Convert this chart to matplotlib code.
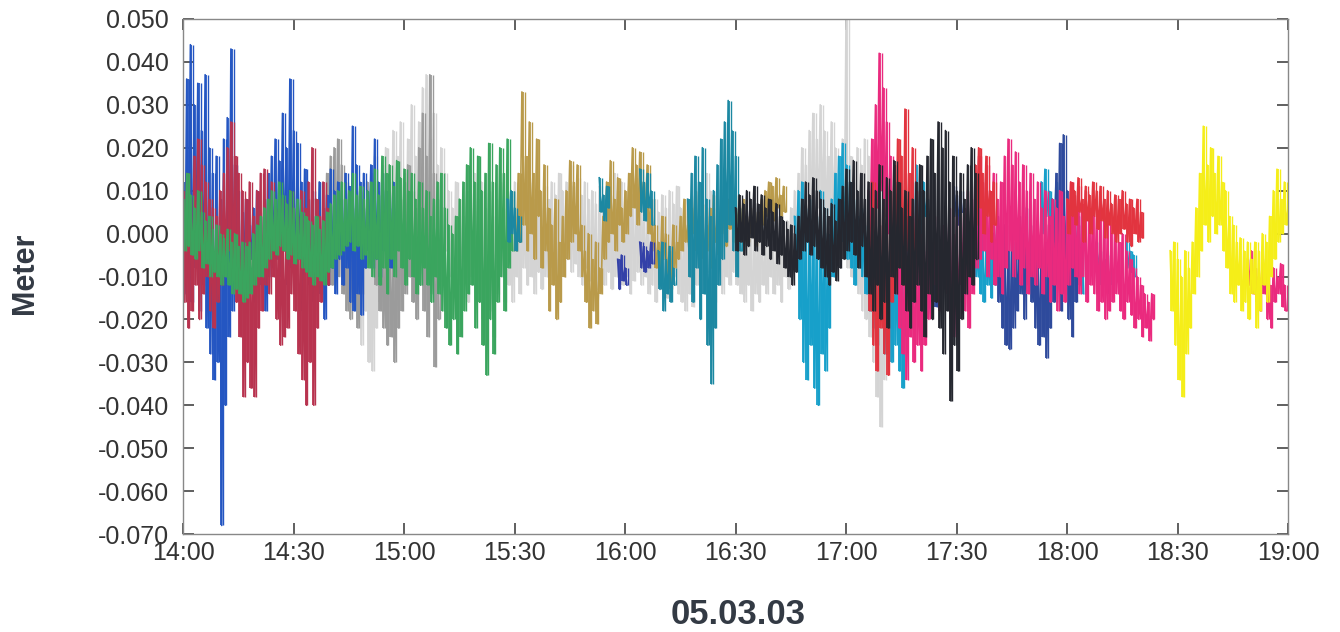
import numpy as np
import matplotlib
matplotlib.use("Agg")
import matplotlib.pyplot as plt

plt.rcParams["font.family"] = ["Liberation Sans", "DejaVu Sans"]
plt.rcParams["axes.unicode_minus"] = False

# time axis: minutes after 14:00, tick every 30 min
tick_minutes = [0, 30, 60, 90, 120, 150, 180, 210, 240, 270, 300]
tick_labels = ["14:00", "14:30", "15:00", "15:30", "16:00", "16:30",
               "17:00", "17:30", "18:00", "18:30", "19:00"]
y_ticks = [0.05, 0.04, 0.03, 0.02, 0.01, 0.0, -0.01, -0.02, -0.03, -0.04, -0.05, -0.06, -0.07]

# each series: first minute, then one (high, low) pair per minute, in mm
# None = no data in that minute
lightgray_start = 46
lightgray = [(4, -14), (10, -20), (6, -26), (12, -18), (8, -30), (14, -32), (18, -22), (10, -16),
             (16, -12), (20, -8), (12, -14), (24, -10), (18, -6), (26, -12), (14, -8), (22, -4),
             (30, -10), (18, -6), (26, -2), (34, -8), (37, -4), (22, -10), (28, -6), (16, -12),
             (20, -8), (14, -4), (10, -10), (6, -14), (12, -8), (8, -12), (4, -6), (10, -16),
             (6, -10), (14, -8), (8, -14), (12, -20), (6, -12), (10, -18), (4, -24), (8, -14),
             (12, -10), (6, -16), (10, -12), (8, -16), (12, -10), (6, -14), (10, -8), (7, -12),
             (12, -10), (8, -14), (10, -9), (6, -13), (11, -10), (8, -12), (12, -8), (9, -11),
             (14, -8), (10, -10), (12, -6), (16, -9), (11, -7), (13, -10), (9, -12), (12, -8),
             (8, -11), (10, -9), (7, -13), (11, -10), (8, -12), (12, -9), (9, -13), (14, -10),
             (10, -8), (12, -12), (8, -10), (11, -14), (9, -11), (13, -9), (10, -12), (7, -10),
             (9, -14), (6, -12), (8, -16), (5, -13), (9, -11), (6, -15), (10, -12), (7, -10),
             (11, -14), (6, -16), (4, -18), (8, -14), (5, -17), (9, -12), (12, -10), (8, -14),
             (14, -9), (10, -12), (6, -16), (8, -12), (5, -14), (7, -10), (4, -12), (6, -9),
             (3, -12), (5, -14), (2, -16), (4, -12), (1, -18), (3, -14), (0, -16), (2, -12),
             (-2, -14), (0, -10), (2, -14), (-1, -12), (4, -16), (1, -10), (3, -13), (6, -8),
             (10, -4), (14, -2), (20, 2), (16, -2), (24, 4), (28, 2), (22, 6), (30, 8),
             (24, 4), (18, 2), (26, 6), (20, -2), (14, -6), (22, -4), (50, -8), (18, -10),
             (12, -12), (20, -14), (16, -18), (22, -20), (18, -24), (14, -30), (10, -38), (8, -45),
             (12, -34), (6, -28), (4, -22)]

gray_start = 36
gray = [(8, -6), (12, -10), (6, -8), (14, -4), (18, -12), (20, -6), (22, -10), (16, -14),
        (12, -18), (8, -20), (6, -16), (4, -22), (10, -14), (6, -8), (12, -4), (8, -6),
        (4, -12), (2, -18), (0, -22), (-2, -26), (2, -24), (-4, -30), (4, -22), (8, -18),
        (12, -14), (16, -10), (10, -16), (6, -20), (20, -12), (28, -18), (18, -24), (37, -14),
        (14, -31), (8, -20)]

blue_start = 0
blue = [(12, -14), (36, -10), (44, -16), (30, -8), (35, -18), (24, -12), (37, -22), (20, -28),
        (14, -34), (18, -30), (8, -68), (22, -40), (27, -24), (43, -18), (16, -12), (10, -16),
        (5, -10), (8, -14), (2, -6), (6, -16), (10, -8), (4, -12), (8, -18), (14, -10),
        (18, -8), (22, -6), (17, -10), (28, -4), (20, -12), (36, -8), (24, -14), (21, -6),
        (12, -18), (15, -8), (8, -12), (10, -16), (4, -10), (12, -14), (6, -20), (9, -12),
        (15, -8), (10, -14), (12, -6), (8, -12), (14, -8), (11, -16), (25, -18), (16, -14),
        (12, -19), (14, -8), (10, -4), (16, -8), (22, -6), (12, -10), (14, -4), (10, -2),
        (6, -8), (12, -4)]

crimson_start = 0
crimson = [(10, -16), (14, -22), (8, -18), (18, -12), (22, -20), (16, -14), (12, -10), (8, -18),
           (6, -22), (4, -16), (10, -12), (14, -8), (20, -4), (26, -10), (18, -16), (14, -24),
           (10, -38), (8, -30), (12, -36), (4, -38), (10, -22), (14, -18), (15, -12), (8, -14),
           (12, -10), (6, -20), (4, -26), (8, -24), (2, -22), (10, -14), (6, -18), (4, -28),
           (10, -34), (6, -40), (12, -30), (20, -40), (8, -22), (4, -16), (12, -8), (6, -12)]

green_start = 0
green = [(8, -4), (14, -3), (9, -5), (6, -6), (10, -4), (5, -8), (3, -7), (4, -10),
         (1, -9), (2, -10), (0, -12), (-1, -10), (1, -12), (-2, -14), (0, -13), (-3, -14),
         (-2, -16), (-3, -15), (-2, -14), (0, -12), (2, -10), (4, -10), (6, -8), (8, -6),
         (10, -4), (8, -5), (12, -3), (9, -4), (7, -6), (10, -5), (6, -7), (8, -6),
         (5, -8), (4, -9), (3, -10), (2, -12), (4, -10), (1, -11), (3, -12), (5, -9),
         (7, -8), (9, -6), (10, -5), (12, -4), (8, -3), (10, -2), (14, -4), (9, -3),
         (11, -6), (8, -5), (10, -8), (12, -10), (15, -6), (9, -12), (18, -8), (14, -14),
         (16, -6), (11, -10), (17, -4), (13, -8), (15, -12), (10, -6), (14, -10), (8, -14),
         (12, -12), (6, -8), (10, -12), (4, -16), (8, -10), (12, -14), (14, -18), (6, -22),
         (2, -26), (0, -20), (4, -28), (8, -24), (12, -18), (16, -14), (20, -12), (12, -22),
         (18, -16), (10, -26), (14, -33), (21, -20), (12, -28), (16, -16), (20, -10), (14, -18),
         (22, -8), (10, -4)]

tan_start = 90
tan = [(4, -4), (14, -2), (33, 2), (18, -4), (26, 0), (14, -6), (22, 4), (10, -8),
       (16, -4), (6, -18), (2, -12), (8, -20), (-2, -16), (4, -10), (10, -6), (17, -2),
       (12, 0), (16, -4), (2, -10), (-4, -16), (0, -22), (-6, -18), (-2, -21), (-8, -14),
       (4, -6), (12, -2), (17, 0), (8, -4), (13, 2), (6, -2), (10, 0), (14, 4),
       (20, 6), (16, 2), (19, 8), (12, 4), (16, 0), (8, -4), (2, -8), (-2, -12),
       (4, -6), (0, -10), (-4, -13), (2, -8), (-2, -6), (4, -4), (8, -2), (2, -6),
       (6, 0), (10, -4), (4, -2), (7, -6), (2, -4), (6, -8), (9, -2), (3, -5),
       (7, 0), (4, -3), (8, 1), (5, -2), (9, 2), (6, 0), (8, 2), (4, -2),
       (6, 0), (3, -3), (5, 0), (8, 2), (10, 4), (12, 5), (11, 3), (13, 6),
       (9, 4), (11, 5)]

teal_start = 88
teal = [(8, -2), (10, 0), (6, -4), (4, -2), None, None, None, None,
        None, None, None, None, None, None, None, None,
        None, None, None, None, None, None, None, None,
        None, (13, 5), (9, 3), (11, 6), None, None, None, None,
        None, None, None, None, (15, 5), (12, 3), (14, 6), (10, 2),
        None, (-4, -13), (-2, -18), (-6, -14), (-3, -16), (-8, -12), None, None,
        None, (8, -10), (14, -16), (18, -8), (12, -20), (20, -14), (8, -26), (4, -35),
        (10, -22), (16, -12), (22, -6), (26, -2), (31, 2), (24, -4), (18, -10), (6, -4)]

navy_small_start = 118
navy_small = [(-6, -13), (-5, -11), (-8, -12), None, None, None, (-2, -8), (-3, -9),
              (-4, -8), (-2, -7)]

cyan_start = 166
cyan = [(4, -8), (10, -20), (12, -30), (6, -34), (8, -26), (2, -36), (4, -40), (10, -28),
        (6, -32), (0, -22), (8, -10), (14, -4), (18, 0), (21, -2), (16, -6), (12, -8),
        (8, -12), (4, -8), (6, -10), (2, -14), (0, -18), (4, -22), (-2, -26), (2, -20),
        (0, -28), (-4, -24), (2, -30), (-2, -26), (0, -32), (-4, -36), (2, -24), (8, -14),
        (12, -6), (16, -2), (10, -4), (12, 4), (8, 0), None, None, None,
        None, None, None, None, None, None, None, None,
        None, (2, -10), (-2, -14), (0, -16), (-4, -12), (-2, -15), (-6, -12), (-3, -10),
        (-5, -8), None, None, None, None, None, None, None,
        None, None, None, (12, 0), (15, 4), (10, 2), (8, -2), (12, 0),
        (6, -4), (10, -2), (4, -8), (2, -10), (6, -6), (4, -12), (0, -14), None,
        None, None, (-2, -8), (-4, -12), (-6, -10), (-5, -14), (-8, -12), None,
        None, None, (-2, -8), (-4, -9), (-5, -10)]

navy_start = 203
navy = [(-5, -14), (-3, -17), (-6, -12), None, None, None, (11, 4), (9, 2),
        (10, 5), None, None, None, None, None, None, None,
        None, (0, -10), (4, -16), (-2, -22), (2, -26), (-4, -27), (0, -22), (-2, -18),
        (4, -14), (0, -20), (6, -12), (2, -16), (-2, -22), (0, -26), (-4, -24), (-2, -29),
        (2, -22), (8, -16), (14, -12), (21, -18), (23, -14), (10, -20), (6, -24), (4, -16),
        (2, -10)]

pink_start = 186
pink = [(10, -4), (22, 2), (30, 6), (42, 10), (34, 4), (26, 0), (18, -6), (4, -14),
        (0, -22), (-4, -28), (2, -34), (-2, -24), (4, -30), (-6, -26), (0, -32), (-4, -26),
        (2, -20), (-2, -16), (4, -12), (-4, -18), (2, -10), (-2, -14), (6, -20), (0, -24),
        (4, -16), (-2, -12), (6, -18), (10, -22), (8, -14), (14, -8), (18, -6), (12, -4),
        (16, -10), (10, -6), (14, -12), (8, -10), (12, -14), (18, -8), (22, -4), (16, -10),
        (19, -6), (12, -12), (16, -8), (10, -14), (14, -10), (8, -12), (12, -8), (6, -14),
        (10, -10), (4, -16), (8, -12), (6, -18), (10, -14), (4, -16), (8, -12), (12, -8),
        (9, -10), (11, -14), (7, -10), (10, -16), (6, -12), (8, -14), (4, -18), (7, -16),
        (2, -20), (4, -18), (0, -16), (2, -14), (-2, -18), (0, -20), (-4, -16), (-6, -19),
        (-8, -22), (-10, -20), (-12, -24), (-14, -22), (-16, -25), (-14, -20)]

pink_late_start = 289
pink_late = [(-6, -12), (-4, -14), (-8, -16), (-10, -18), (-6, -14), (-9, -20), (-12, -22),
             (-8, -16), (-10, -14), (-7, -17), (-12, -18)]

red_start = 186
red = [(4, -18), (12, -26), (8, -32), (2, -22), (6, -28), (0, -33), (10, -16), (16, -10),
       (22, -6), (18, -12), (29, -4), (14, -8), (20, -13), (10, -6), None, None,
       None, None, None, None, None, None, None, None,
       None, None, None, None, None, (16, 2), (20, 6), (14, 0),
       (18, 4), (10, -2), (12, 2)]

red_late_start = 240
red_late = [(8, 0), (12, 4), (10, 2), (13, 5), (8, -2), (11, 3), (9, 0), (12, 4),
            (10, 1), (11, 3), (8, -1), (10, 2), (7, 0), (9, -2), (8, 0), (10, 1),
            (7, -2), (8, -3), (6, 0), (8, -2), (5, -1)]

black_start = 150
black = [(6, -4), (9, -2), (7, -5), (10, -3), (8, -1), (11, -4), (7, -2), (9, -5),
         (6, -3), (8, -6), (5, -4), (7, -7), (4, -5), (3, -8), (1, -10), (2, -12),
         (0, -9), (4, -6), (8, -4), (12, -2), (9, -5), (13, -3), (10, -6), (8, -8),
         (6, -10), (4, -12), (7, -9), (3, -11), (8, -8), (11, -6), (15, -4), (12, -2),
         (17, -5), (10, -8), (14, -3), (8, -10), (12, -14), (6, -18), (10, -12), (16, -20),
         (8, -16), (13, -22), (10, -10), (17, -14), (12, -8), (6, -12), (10, -18), (4, -22),
         (8, -16), (12, -12), (16, -18), (10, -24), (18, -14), (22, -20), (14, -16), (26, -22),
         (20, -28), (24, -18), (12, -39), (18, -26), (10, -32), (14, -20), (8, -14), (16, -10),
         (20, -12), (14, -6)]

yellow_start = 268
yellow = [(-4, -18), (-2, -26), (-6, -34), (-10, -38), (-4, -28), (-8, -22), (-2, -14), (6, -10),
          (14, -4), (25, 2), (16, -2), (20, 4), (14, 0), (18, 2), (12, -4), (10, -8),
          (4, -14), (2, -16), (-2, -12), (-1, -18), (-4, -16), (-2, -20), (-6, -14), (-2, -22),
          (-4, -18), (0, -12), (-2, -16), (4, -10), (10, -6), (15, -2), (8, 0), (12, 2),
          (6, -2)]


def series_arrays(start, pairs):
    t = start + np.arange(len(pairs), dtype=float)
    hi = np.array([np.nan if p is None else p[0] for p in pairs]) / 1000.0
    lo = np.array([np.nan if p is None else p[1] for p in pairs]) / 1000.0
    return t, hi, lo


# bottom to top drawing order
layers = [
    (lightgray_start, lightgray, "#d4d4d4"),
    (gray_start, gray, "#9b9b9b"),
    (blue_start, blue, "#2456c2"),
    (crimson_start, crimson, "#b8334f"),
    (green_start, green, "#3aa55e"),
    (tan_start, tan, "#b99a4a"),
    (teal_start, teal, "#1c88a2"),
    (navy_small_start, navy_small, "#3340a8"),
    (cyan_start, cyan, "#17a0ca"),
    (navy_start, navy, "#2e4a9c"),
    (pink_start, pink, "#ea2a7e"),
    (pink_late_start, pink_late, "#ea2a7e"),
    (red_start, red, "#e2343f"),
    (red_late_start, red_late, "#e2343f"),
    (black_start, black, "#25272f"),
    (yellow_start, yellow, "#f5ee18"),
]

fig = plt.figure(figsize=(13.4, 6.32), dpi=100)
ax = fig.add_axes([0.1366, 0.155, 0.8246, 0.815])

for start, pairs, col in layers:
    t, hi, lo = series_arrays(start, pairs)
    # zigzag trace high -> low -> high, plus vertical strokes per minute
    tz = np.column_stack([t, t + 0.5]).ravel()
    vz = np.column_stack([hi, lo]).ravel()
    ax.plot(tz, vz, color=col, lw=1.2)
    ax.vlines(t + 0.25, lo, hi, color=col, lw=1.3)
    ax.vlines(t + 0.75, lo, hi, color=col, lw=1.0)

ax.set_xlim(0, 300)
ax.set_ylim(-0.07, 0.05)
ax.set_xticks(tick_minutes)
ax.set_xticklabels(tick_labels)
ax.set_yticks(y_ticks)
ax.set_yticklabels([f"{v:.3f}" for v in y_ticks])
ax.tick_params(direction="in", length=8, width=1.2, color="#444",
               top=True, right=True, labelcolor="#333333")
ax.tick_params(axis="y", labelsize=18, pad=10)
ax.tick_params(axis="x", labelsize=18, pad=5)
for s in ax.spines.values():
    s.set_color("#888888")
    s.set_linewidth(1.0)

fig.text(0.019, 0.568, "Meter", rotation=90, ha="center", va="center",
         fontsize=22, fontweight="bold", color="#333a44",
         family=["Liberation Sans Narrow", "Liberation Sans"])
fig.text(0.551, 0.027, "05.03.03", ha="center", va="center",
         fontsize=25, fontweight="bold", color="#333a44",
         family=["Liberation Sans Narrow", "Liberation Sans"])

fig.savefig("out.png", dpi=100)
